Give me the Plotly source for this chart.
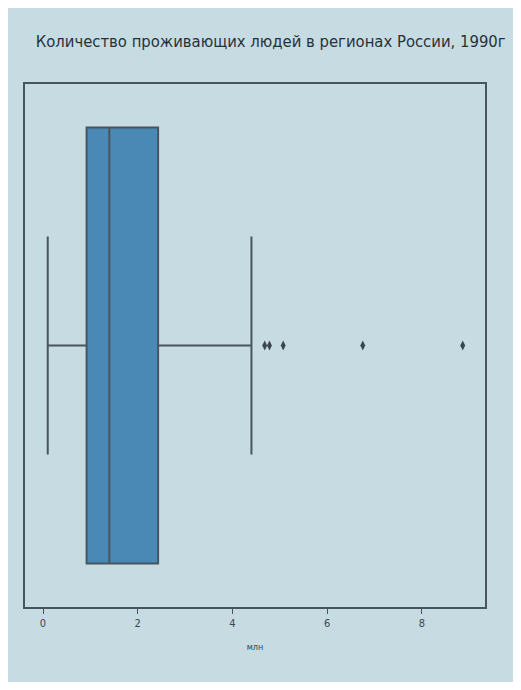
import plotly.graph_objects as go

# Box statistics (population, million people)
q1 = [0.92]
median = [1.40]
q3 = [2.43]
lower_fence = [0.10]
upper_fence = [4.40]

# Outliers beyond the upper whisker
outliers = [4.68, 4.78, 5.07, 6.75, 8.86]

tick_vals = [0, 2, 4, 6, 8]
tick_text = ['0', '2', '4', '6', '8']

title_text = 'Количество проживающих людей в регионах России, 1990г'
x_label = 'млн'

bg = '#c7dbe3'
line_col = '#47555f'

fig = go.Figure()

fig.add_trace(go.Box(
    y=[0], q1=q1, median=median, q3=q3,
    lowerfence=lower_fence, upperfence=upper_fence,
    orientation='h', width=0.8, whiskerwidth=0.5,
    fillcolor='#4a89b6', line=dict(color=line_col, width=2),
    boxpoints=False, showlegend=False, hoverinfo='x',
))

fig.add_trace(go.Scatter(
    x=outliers, y=[0] * len(outliers), mode='markers',
    marker=dict(symbol='diamond-tall', size=7, color='#3a4650'),
    showlegend=False,
))

# the page adds an 8px body margin, so the figure is sized to fit inside it
fig.update_layout(
    width=505, height=674,
    margin=dict(l=17, r=28, t=76, b=75),
    paper_bgcolor=bg, plot_bgcolor=bg,
    title=dict(text=title_text, x=0.52, xanchor='center', y=0.95, yanchor='middle',
               font=dict(family='DejaVu Sans Condensed, DejaVu Sans', size=16.5, color='#26323a')),
    font=dict(family='DejaVu Sans Condensed, DejaVu Sans', color='#3a4650'),
)

fig.update_xaxes(
    range=[-0.38, 9.33], tickvals=tick_vals, ticktext=tick_text,
    showgrid=False, zeroline=False, showline=True, mirror=True,
    linecolor=line_col, linewidth=2, ticks='outside', ticklen=5,
    tickcolor=line_col, tickfont=dict(size=11),
    title=dict(text=x_label, font=dict(size=9), standoff=14),
)
fig.update_yaxes(
    range=[-0.48, 0.48], showticklabels=False, showgrid=False, zeroline=False,
    showline=True, mirror=True, linecolor=line_col, linewidth=2,
)

fig.write_html('out.html')
